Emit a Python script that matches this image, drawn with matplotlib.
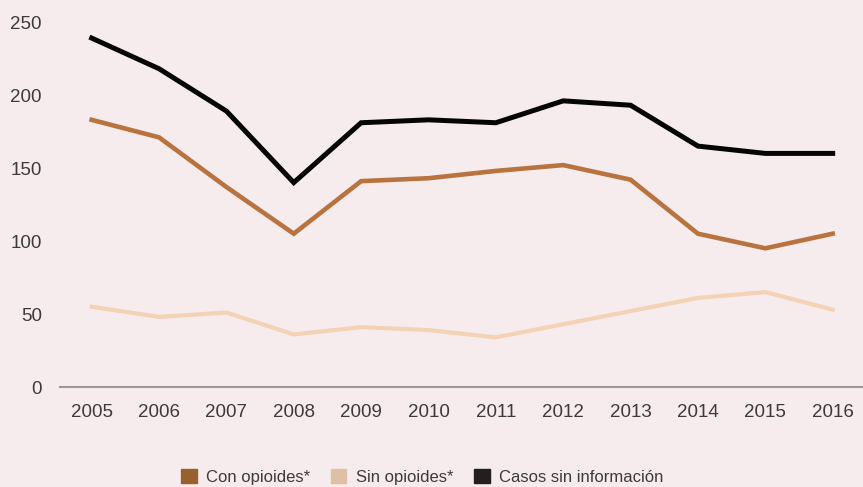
import matplotlib
matplotlib.use("Agg")
import matplotlib.pyplot as plt
import matplotlib.patches as mpatches

years = [2005, 2006, 2007, 2008, 2009, 2010, 2011, 2012, 2013, 2014, 2015, 2016]
con_opioides = [183, 171, 137, 105, 141, 143, 148, 152, 142, 105, 95, 105]
sin_opioides = [55, 48, 51, 36, 41, 39, 34, 43, 52, 61, 65, 53]
sin_info = [239, 218, 189, 140, 181, 183, 181, 196, 193, 165, 160, 160]
y_ticks = [0, 50, 100, 150, 200, 250]

BG = "#f7eced"
TEXT = "#3d3a3b"

plt.rcParams["font.family"] = ["Liberation Sans", "DejaVu Sans"]

fig = plt.figure(figsize=(8.63, 4.87), dpi=100)
fig.patch.set_facecolor(BG)
ax = fig.add_axes([60 / 863, 100 / 487, 803 / 863, 372 / 487])
ax.set_facecolor(BG)

ax.plot(years, sin_opioides, color="#f4d2b6", lw=3.0, solid_joinstyle="miter")
ax.plot(years, con_opioides, color="#b8733f", lw=3.3, solid_joinstyle="miter")
ax.plot(years, sin_info, color="#050505", lw=3.6, solid_joinstyle="miter")

ax.set_xlim(2004.53, 2016.45)
ax.set_ylim(0, 254.8)
ax.set_xticks(years)
ax.set_yticks(y_ticks)
ax.tick_params(axis="both", length=0, labelsize=13.5, colors=TEXT)
ax.tick_params(axis="x", pad=12)
ax.tick_params(axis="y", pad=13)
for s in ["top", "right", "left"]:
    ax.spines[s].set_visible(False)
ax.spines["bottom"].set_color("#9a9898")
ax.spines["bottom"].set_linewidth(1.5)

handles = [
    mpatches.Patch(color="#96602f", label="Con opioides*"),
    mpatches.Patch(color="#dfc0a6", label="Sin opioides*"),
    mpatches.Patch(color="#231f20", label="Casos sin información"),
]
leg = fig.legend(handles=handles, loc="center", bbox_to_anchor=(422 / 863, 10 / 487),
                 ncol=3, frameon=False, fontsize=12, labelcolor=TEXT,
                 handlelength=0.95, handleheight=0.95, handletextpad=0.55,
                 columnspacing=1.25, borderpad=0)

fig.savefig("out.png", dpi=100, facecolor=BG)
